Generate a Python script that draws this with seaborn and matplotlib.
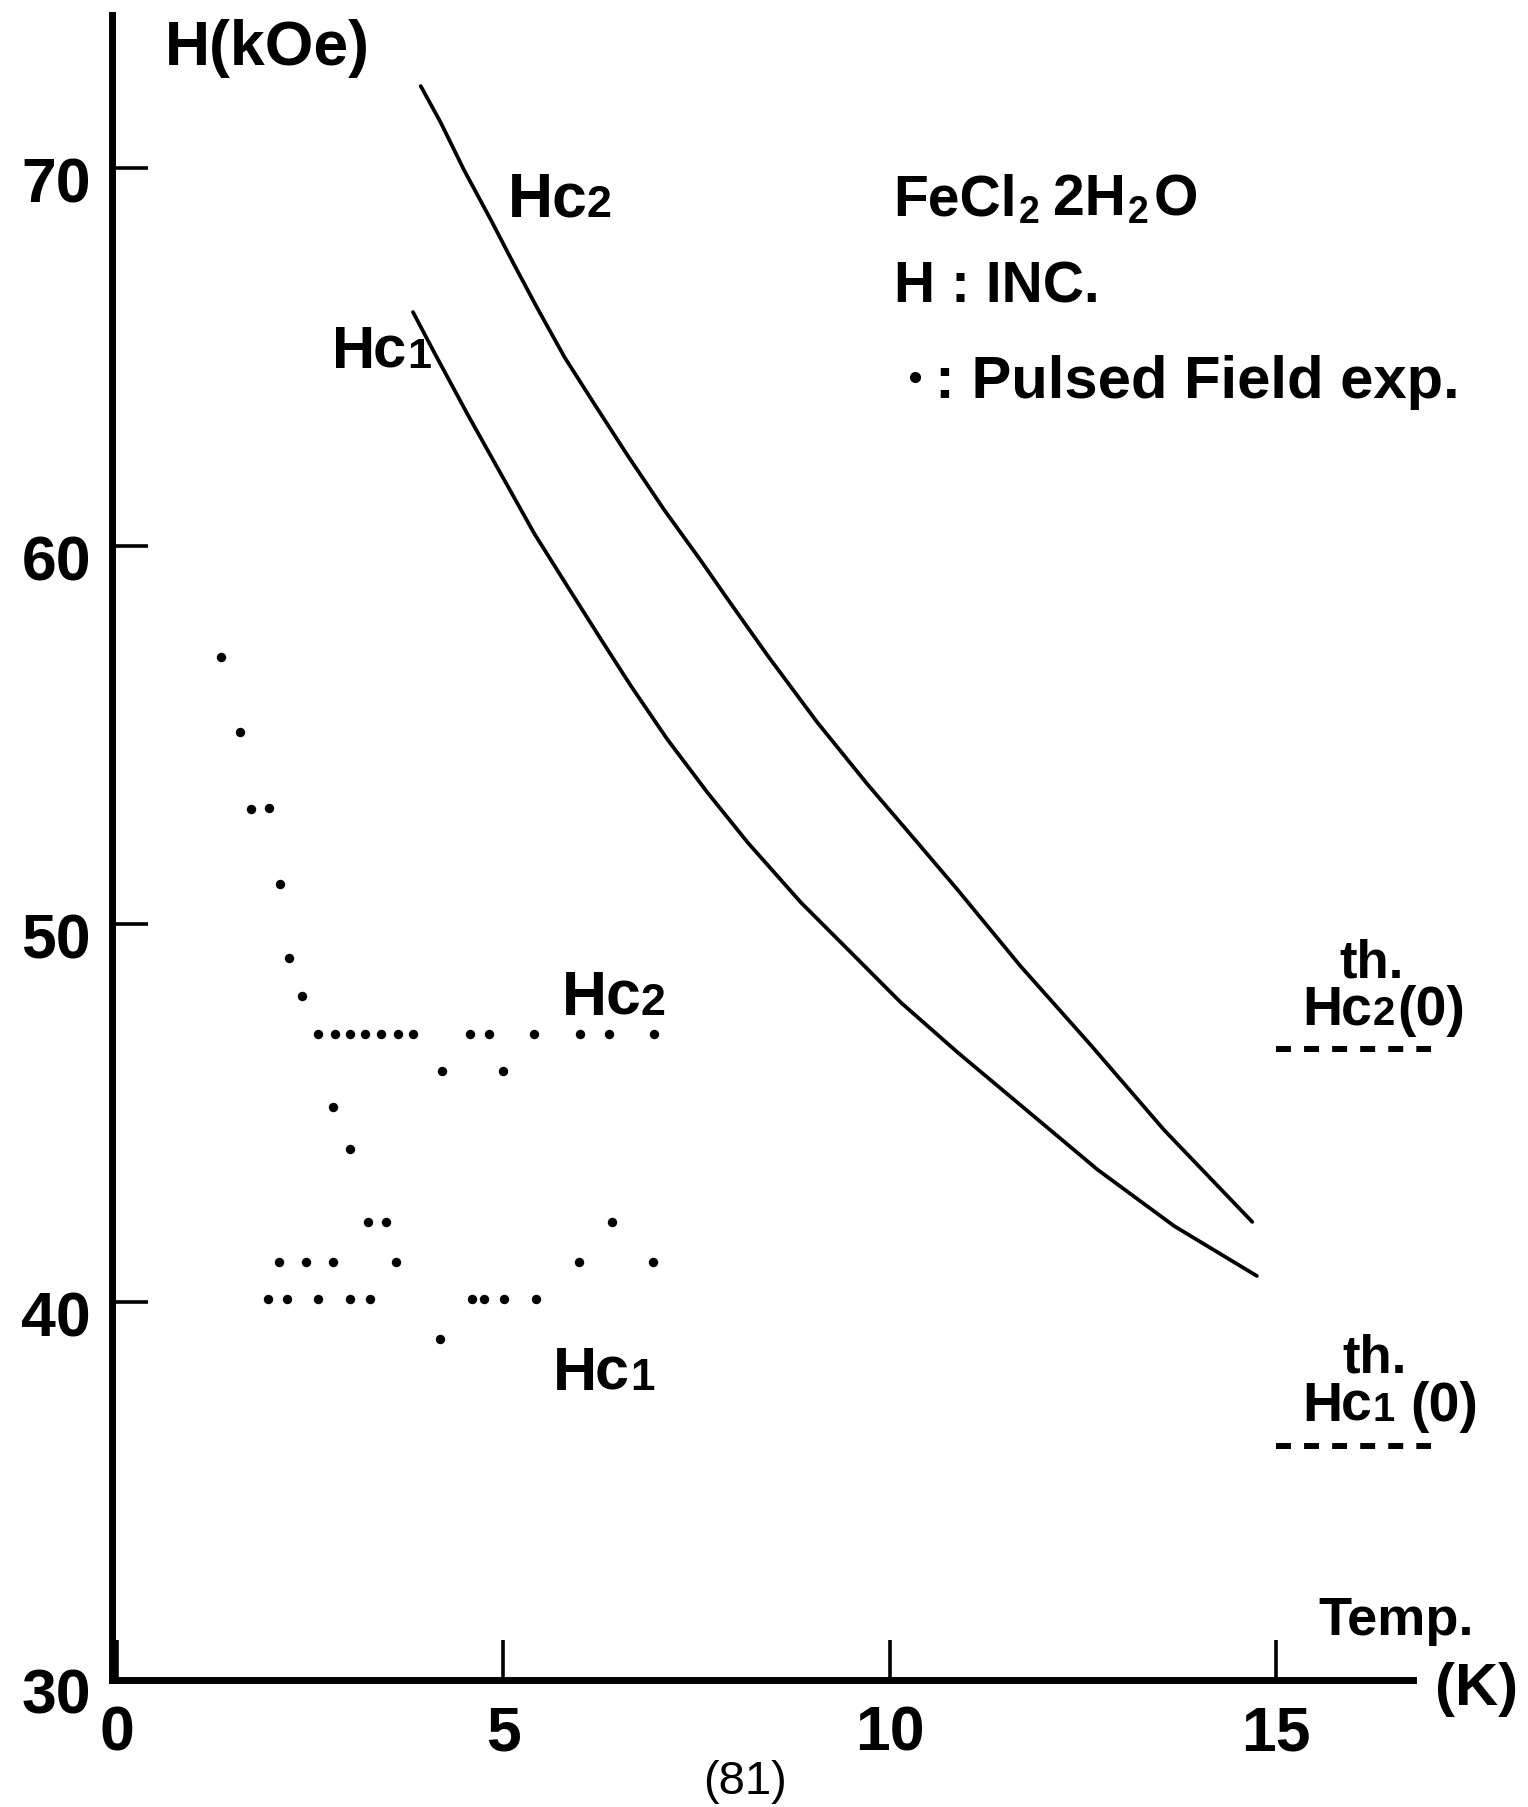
import matplotlib
matplotlib.use("Agg")
import matplotlib.pyplot as plt
from matplotlib import transforms as mtransforms
import pandas as pd
import seaborn as sns

# ---- data -----------------------------------------------------------------
# upper critical field curve Hc2(T)
HC2_T = [3.93, 4.19, 4.49, 4.84, 5.14, 5.44, 5.79, 6.17, 6.60, 7.08, 7.56,
         7.90, 8.42, 9.06, 9.71, 10.36, 10.88, 11.69, 12.60, 13.55, 14.69]
HC2_H = [72.17, 71.20, 69.95, 68.62, 67.44, 66.29, 65.00, 63.78, 62.42, 60.96,
         59.60, 58.60, 57.10, 55.34, 53.70, 52.15, 50.90, 48.89, 46.80, 44.55,
         42.12]

# lower critical field curve Hc1(T)
HC1_T = [3.83, 4.10, 4.54, 4.97, 5.40, 5.83, 6.26, 6.65, 7.12, 7.64, 8.16,
         8.85, 9.54, 10.14, 10.88, 11.82, 12.69, 13.68, 14.75]
HC1_H = [66.19, 65.14, 63.47, 61.90, 60.33, 58.93, 57.54, 56.30, 54.89, 53.48,
         52.16, 50.57, 49.16, 47.93, 46.60, 44.99, 43.50, 42.01, 40.69]

# pulsed field experiment points
PULSE_T = [1.35, 1.59, 1.74, 1.97, 2.11, 2.22, 2.40,
           2.60, 2.82, 3.02, 3.21, 3.42, 3.63, 3.83, 4.57, 4.82, 5.39, 5.99,
           6.37, 6.95,
           4.20, 5.00,
           2.80,
           3.02,
           3.25, 3.48, 6.40,
           2.10, 2.44, 2.79, 3.61, 5.98, 6.94,
           1.96, 2.20, 2.60, 3.02, 3.27, 4.60, 4.75, 5.01, 5.42,
           4.18]
PULSE_H = [57.06, 55.07, 53.04, 53.08, 51.06, 49.09, 48.10,
           47.10, 47.10, 47.10, 47.10, 47.10, 47.10, 47.10, 47.10, 47.10, 47.10,
           47.10, 47.10, 47.10,
           46.12, 46.12,
           45.15,
           44.05,
           42.12, 42.12, 42.12,
           41.07, 41.07, 41.07, 41.07, 41.07, 41.07,
           40.08, 40.08, 40.08, 40.08, 40.08, 40.08, 40.08, 40.08, 40.08,
           39.02]

# theoretical zero-temperature critical fields
TH_LABELS = ["2", "1"]
TH_H0 = [46.7, 36.2]

X_TICKS = [0, 5, 10, 15]
X_TICK_LABELS = ["0", "5", "10", "15"]
Y_TICKS = [30, 40, 50, 60, 70]
Y_TICK_LABELS = ["30", "40", "50", "60", "70"]

# ---- layout ---------------------------------------------------------------
W, H = 1528, 1808
TH_SPAN = (15.0, 17.0)
FONT = ["Liberation Sans", "DejaVu Sans"]

sns.set_theme(style="white")
plt.rcParams["font.family"] = FONT
plt.rcParams["font.weight"] = "bold"
plt.rcParams["text.color"] = "black"
plt.rcParams["xtick.color"] = "black"
plt.rcParams["ytick.color"] = "black"
plt.rcParams["axes.labelcolor"] = "black"

fig = plt.figure(figsize=(W / 100, H / 100), dpi=100)
ax = fig.add_axes([112 / W, 1 - 1681 / H, (1440 - 112) / W, (1681 - 16) / H])
ax.set_xlim(-0.065, 17.12)
ax.set_ylim(30, 74.05)

curves = pd.concat([
    pd.DataFrame({"T": HC2_T, "H": HC2_H, "curve": "Hc2"}),
    pd.DataFrame({"T": HC1_T, "H": HC1_H, "curve": "Hc1"}),
])
pulse = pd.DataFrame({"T": PULSE_T, "H": PULSE_H})

sns.lineplot(data=curves, x="T", y="H", units="curve", estimator=None,
             sort=False, color="black", linewidth=2.7, ax=ax,
             solid_joinstyle="round", solid_capstyle="round")
sns.scatterplot(data=pulse, x="T", y="H", color="black", s=46,
                linewidth=0, ax=ax, zorder=3)

for h0 in TH_H0:
    ax.plot(TH_SPAN, [h0, h0], color="black", linewidth=4.3,
            dashes=(2.5, 2.2), dash_capstyle="butt", clip_on=False)

# axes frame
for side in ("top", "right"):
    ax.spines[side].set_visible(False)
for side in ("left", "bottom"):
    ax.spines[side].set_linewidth(5)
    ax.spines[side].set_color("black")
ax.spines["bottom"].set_bounds(-0.065, 16.77)

ax.set_xticks(X_TICKS, X_TICK_LABELS)
ax.set_yticks(Y_TICKS, Y_TICK_LABELS)
ax.tick_params(axis="x", direction="in", length=29, width=2.6, pad=17,
               labelsize=45, colors="black", bottom=True)
ax.tick_params(axis="y", direction="in", length=26, width=2.6, pad=15,
               labelsize=45, colors="black", left=True)
for lab in ax.get_xticklabels() + ax.get_yticklabels():
    lab.set_fontweight("bold")
    lab.set_color("black")
for lab in ax.get_yticklabels():
    lab.set_transform(lab.get_transform() +
                      mtransforms.ScaledTranslation(0, -0.10, fig.dpi_scale_trans))
ax.set_xlabel("")
ax.set_ylabel("")

renderer = fig.canvas.get_renderer()


def rich_text(x, y, runs, gap=0):
    """Place consecutive text pieces on one baseline; each run is
    (text, fontsize, vertical offset in px, extra gap before in px)."""
    dx = 0.0
    for s, size, dy, pre in runs:
        dx += pre
        tr = mtransforms.offset_copy(ax.transData, fig=fig, x=dx, y=dy,
                                     units="dots")
        t = ax.text(x, y, s, transform=tr, fontsize=size, ha="left",
                    va="baseline", fontweight="bold", color="black",
                    clip_on=False)
        dx += t.get_window_extent(renderer=renderer).width + gap


def hc_label(x, y, idx, size, tail=None, tail_gap=6):
    runs = [("H", size, 0, 0), ("c", size, 0, -2), (idx, size * 0.72, 0, 1)]
    if tail:
        runs.append((tail, size, 0, tail_gap))
    rich_text(x, y, runs)


# axis titles
ax.text(0.62, 72.75, "H(kOe)", fontsize=45, fontweight="bold",
        ha="left", va="baseline")
ax.text(15.54, 31.22, "Temp.", fontsize=39, fontweight="bold",
        ha="left", va="baseline", clip_on=False)
ax.text(17.06, 29.37, "(K)", fontsize=43, fontweight="bold",
        ha="left", va="baseline", clip_on=False)

# curve labels
hc_label(5.06, 68.73, "2", 45)
hc_label(2.78, 64.74, "1", 43)
hc_label(5.76, 47.62, "2", 45)
hc_label(5.64, 37.70, "1", 44)

# sample description
sub = 27
rich_text(10.04, 68.78, [("FeCl", 41, 0, 0), ("2", sub, -8, 2),
                         ("2H", 41, 0, 14), ("2", sub, -8, 2),
                         ("O", 41, 0, 5)])
ax.text(10.06, 66.48, "H : INC.", fontsize=41, fontweight="bold",
        ha="left", va="baseline")
ax.plot([10.32], [64.47], "o", color="black", markersize=7)
ax.text(10.58, 63.94, ": Pulsed Field exp.", fontsize=43, fontweight="bold",
        ha="left", va="baseline")

# theoretical values
ax.text(15.82, 48.62, "th.", fontsize=38, fontweight="bold",
        ha="left", va="baseline", clip_on=False)
hc_label(15.34, 47.35, TH_LABELS[0], 40, tail="(0)", tail_gap=3)
ax.text(15.86, 38.16, "th.", fontsize=38, fontweight="bold",
        ha="left", va="baseline", clip_on=False)
hc_label(15.34, 36.88, TH_LABELS[1], 40, tail="(0)", tail_gap=16)

# page number
fig.text(745 / W, 1 - 1782 / H, "(81)", fontsize=34, fontweight="normal",
         ha="center", va="center", color="black")

fig.savefig("out.png", dpi=100)
